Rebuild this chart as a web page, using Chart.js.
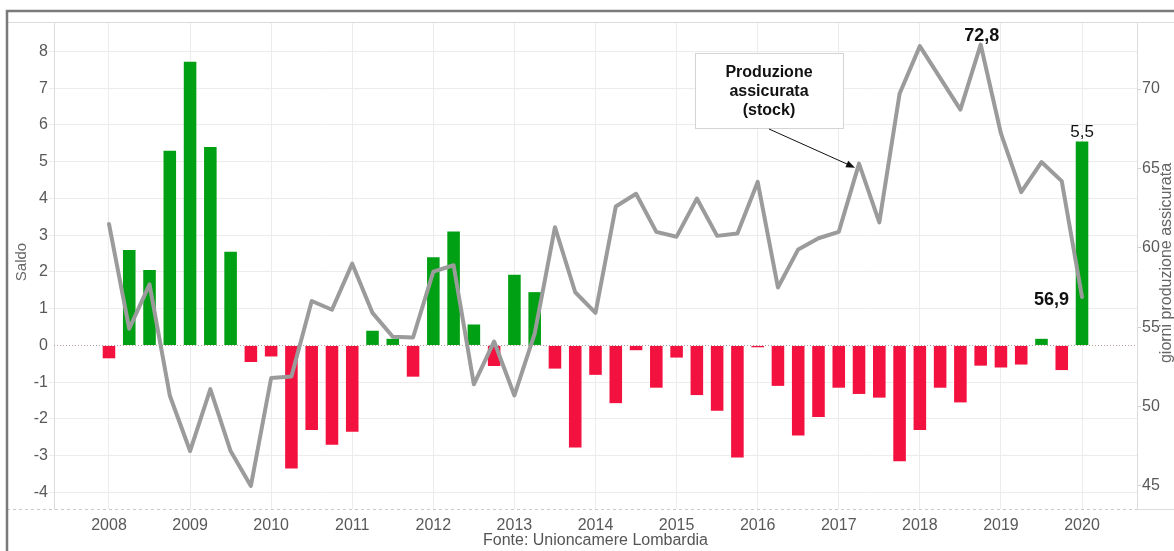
<!DOCTYPE html>
<html>
<head>
<meta charset="utf-8">
<script src="https://cdn.jsdelivr.net/npm/chart.js@4/dist/chart.umd.min.js"></script>
<style>
  body { margin: 0; background: #fff; }
</style>
</head>
<body>
<canvas id="grafico" width="1174" height="551"></canvas>
<script>
// Trimestri 2008 T1 - 2020 T1
const trimestri = [
  "2008 T1", "2008 T2", "2008 T3", "2008 T4",
  "2009 T1", "2009 T2", "2009 T3", "2009 T4",
  "2010 T1", "2010 T2", "2010 T3", "2010 T4",
  "2011 T1", "2011 T2", "2011 T3", "2011 T4",
  "2012 T1", "2012 T2", "2012 T3", "2012 T4",
  "2013 T1", "2013 T2", "2013 T3", "2013 T4",
  "2014 T1", "2014 T2", "2014 T3", "2014 T4",
  "2015 T1", "2015 T2", "2015 T3", "2015 T4",
  "2016 T1", "2016 T2", "2016 T3", "2016 T4",
  "2017 T1", "2017 T2", "2017 T3", "2017 T4",
  "2018 T1", "2018 T2", "2018 T3", "2018 T4",
  "2019 T1", "2019 T2", "2019 T3", "2019 T4",
  "2020 T1",
];

// Saldo (barre, asse sinistro)
const saldo = [
  -0.35, 2.6, 2.05, 5.3,
  7.72, 5.4, 2.55, -0.45,
  -0.3, -3.35, -2.3, -2.7,
  -2.35, 0.4, 0.18, -0.85,
  2.4, 3.1, 0.57, -0.56,
  1.92, 1.45, -0.63, -2.78,
  -0.8, -1.57, -0.13, -1.15,
  -0.33, -1.35, -1.78, -3.05,
  -0.05, -1.1, -2.45, -1.95,
  -1.15, -1.32, -1.42, -3.15,
  -2.3, -1.15, -1.55, -0.55,
  -0.6, -0.52, 0.18, -0.67,
  5.55,
];

// Giorni di produzione assicurata (linea, asse destro)
const giorni = [
  61.5, 54.9, 57.7, 50.7,
  47.2, 51.1, 47.2, 45.0,
  51.8, 51.9, 56.65, 56.1,
  59.0, 55.9, 54.4, 54.35,
  58.5, 58.9, 51.4, 54.1,
  50.7, 54.6, 61.3, 57.2,
  55.9, 62.6, 63.4, 61.0,
  60.7, 63.1, 60.75, 60.9,
  64.15, 57.5, 59.9, 60.6,
  61.0, 65.3, 61.6, 69.7,
  72.7, 70.7, 68.7, 72.8,
  67.2, 63.5, 65.4, 64.2,
  56.9,
];

// Etichette degli assi
const anni = [2008, 2009, 2010, 2011, 2012, 2013, 2014, 2015, 2016, 2017, 2018, 2019, 2020];
const tickSaldo = [-4, -3, -2, -1, 0, 1, 2, 3, 4, 5, 6, 7, 8];
const tickGiorni = [45, 50, 55, 60, 65, 70];

const VERDE = "#00a014";
const ROSSO = "#f3123f";
const GRIGIO_TESTO = "#595959";

Chart.defaults.font.family = "'Liberation Sans', Arial, sans-serif";

// "2009 T3" -> 2009.5
const xDi = (t) => +t.slice(0, 4) + (+t.slice(-1) - 1) / 4;

const puntiSaldo = trimestri.map((t, i) => ({ x: xDi(t), y: saldo[i] }));
const puntiGiorni = trimestri.map((t, i) => ({ x: xDi(t), y: giorni[i] }));

const fissaTick = (valori) => (scale) => {
  scale.ticks = valori.map((v) => ({ value: v }));
};

const extra = {
  id: "extra",
  beforeDatasetsDraw(chart) {
    const { ctx, chartArea } = chart;
    const y0 = chart.scales.y.getPixelForValue(0);
    ctx.save();
    ctx.strokeStyle = "#b59a9a";
    ctx.lineWidth = 1;
    ctx.setLineDash([1, 2]);
    ctx.beginPath();
    ctx.moveTo(chartArea.left, Math.round(y0) + 0.5);
    ctx.lineTo(chartArea.right, Math.round(y0) + 0.5);
    ctx.stroke();
    ctx.restore();
  },
  afterDraw(chart) {
    const { ctx, chartArea } = chart;
    const meta = chart.getDatasetMeta(0);
    ctx.save();

    // cornice e bordi dell'area
    ctx.strokeStyle = "#dcdcdc";
    ctx.lineWidth = 1;
    ctx.beginPath();
    ctx.moveTo(7, chartArea.top + 0.5);
    ctx.lineTo(1174, chartArea.top + 0.5);
    ctx.moveTo(chartArea.right + 0.5, chartArea.top);
    ctx.lineTo(chartArea.right + 0.5, chartArea.bottom);
    ctx.moveTo(chartArea.right, chartArea.bottom + 0.5);
    ctx.lineTo(1174, chartArea.bottom + 0.5);
    ctx.stroke();
    ctx.strokeStyle = "#c8c8c8";
    ctx.setLineDash([3, 3]);
    ctx.beginPath();
    ctx.moveTo(7, chartArea.bottom + 0.5);
    ctx.lineTo(chartArea.right, chartArea.bottom + 0.5);
    ctx.stroke();
    ctx.setLineDash([]);
    ctx.strokeStyle = "#7a7a7a";
    ctx.lineWidth = 2.5;
    ctx.beginPath();
    ctx.moveTo(7, 600);
    ctx.lineTo(7, 11);
    ctx.lineTo(1200, 11);
    ctx.stroke();

    // titoli degli assi
    ctx.fillStyle = "#666";
    ctx.textAlign = "center";
    ctx.textBaseline = "alphabetic";
    ctx.font = "15px 'Liberation Sans', Arial, sans-serif";
    ctx.save();
    ctx.translate(26, 262);
    ctx.rotate(-Math.PI / 2);
    ctx.fillText("Saldo", 0, 0);
    ctx.restore();
    ctx.font = "16px 'Liberation Sans', Arial, sans-serif";
    ctx.save();
    ctx.translate(1171, 263);
    ctx.rotate(-Math.PI / 2);
    ctx.fillText("giorni produzione assicurata", 0, 0);
    ctx.restore();

    // fonte
    ctx.fillStyle = "#555";
    ctx.font = "16px 'Liberation Sans', Arial, sans-serif";
    ctx.fillText("Fonte: Unioncamere Lombardia", (chartArea.left + chartArea.right) / 2, 545);

    // etichette valori
    const pMax = meta.data[giorni.indexOf(72.8)];
    ctx.fillStyle = "#111";
    ctx.font = "bold 18px 'Liberation Sans', Arial, sans-serif";
    ctx.fillText("72,8", pMax.x + 1, pMax.y - 4);

    const last = giorni.length - 1;
    const pFine = meta.data[last];
    ctx.textAlign = "right";
    ctx.fillText("56,9", pFine.x - 13, pFine.y + 8);

    const barre = chart.getDatasetMeta(1).data;
    ctx.textAlign = "center";
    ctx.font = "17px 'Liberation Sans', Arial, sans-serif";
    ctx.fillText("5,5", barre[last].x, barre[last].y - 4.5);

    // riquadro annotazione
    ctx.fillStyle = "#fff";
    ctx.strokeStyle = "#d4d4d4";
    ctx.lineWidth = 1;
    ctx.fillRect(695.5, 53.5, 148, 75);
    ctx.strokeRect(695.5, 53.5, 148, 75);
    ctx.fillStyle = "#111";
    ctx.font = "bold 16px 'Liberation Sans', Arial, sans-serif";
    ctx.fillText("Produzione", 769, 77);
    ctx.fillText("assicurata", 769, 96);
    ctx.fillText("(stock)", 769, 115);

    // freccia verso il punto 2017 T2
    const pFreccia = meta.data[trimestri.indexOf("2017 T2")];
    const x0 = 769, yA = 129;
    const x1 = pFreccia.x - 4, yB = pFreccia.y + 4;
    const ang = Math.atan2(yB - yA, x1 - x0);
    ctx.strokeStyle = "#111";
    ctx.lineWidth = 1;
    ctx.beginPath();
    ctx.moveTo(x0, yA);
    ctx.lineTo(x1 - 6 * Math.cos(ang), yB - 6 * Math.sin(ang));
    ctx.stroke();
    ctx.beginPath();
    ctx.moveTo(x1, yB);
    ctx.lineTo(x1 - 9 * Math.cos(ang) + 3.5 * Math.sin(ang), yB - 9 * Math.sin(ang) - 3.5 * Math.cos(ang));
    ctx.lineTo(x1 - 9 * Math.cos(ang) - 3.5 * Math.sin(ang), yB - 9 * Math.sin(ang) + 3.5 * Math.cos(ang));
    ctx.closePath();
    ctx.fill();

    ctx.restore();
  },
};

new Chart(document.getElementById("grafico"), {
  type: "bar",
  data: {
    datasets: [
      {
        type: "line",
        label: "Produzione assicurata (stock)",
        data: puntiGiorni,
        yAxisID: "y1",
        borderColor: "#9b9b9b",
        borderWidth: 4,
        pointRadius: 0,
        tension: 0,
        borderJoinStyle: "round",
        borderCapStyle: "round",
        order: 0,
      },
      {
        label: "Saldo",
        data: puntiSaldo,
        yAxisID: "y",
        backgroundColor: (c) => (c.raw && c.raw.y >= 0 ? VERDE : ROSSO),
        barPercentage: 0.62,
        categoryPercentage: 1,
        order: 1,
      },
    ],
  },
  options: {
    responsive: false,
    animation: false,
    layout: { padding: { top: 22, left: 0, right: 0, bottom: 0 } },
    plugins: {
      legend: { display: false },
      tooltip: { enabled: false },
    },
    scales: {
      x: {
        type: "linear",
        min: 2007.322,
        max: 2020.678,
        offset: false,
        afterBuildTicks: fissaTick(anni),
        afterFit: (s) => { s.height = 42; },
        ticks: {
          callback: (v) => String(v),
          font: { size: 16 },
          color: GRIGIO_TESTO,
          padding: 7,
          maxRotation: 0,
          autoSkip: false,
        },
        grid: { color: "#ececec", drawTicks: false, offset: false },
        border: { display: false },
      },
      y: {
        position: "left",
        min: -4.45,
        max: 8.8,
        afterBuildTicks: fissaTick(tickSaldo),
        afterFit: (s) => { s.width = 54; },
        ticks: {
          callback: (v) => String(v),
          font: { size: 16 },
          color: GRIGIO_TESTO,
          padding: 1,
          autoSkip: false,
        },
        grid: {
          color: (c) => (c.tick && c.tick.value === 0 ? "rgba(0,0,0,0)" : "#ececec"),
          tickLength: 5,
        },
        border: { color: "#dcdcdc" },
      },
      y1: {
        position: "right",
        min: 43.55,
        max: 74.22,
        afterBuildTicks: fissaTick(tickGiorni),
        afterFit: (s) => { s.width = 37; },
        ticks: {
          callback: (v) => String(v),
          font: { size: 16 },
          color: GRIGIO_TESTO,
          padding: 1,
          autoSkip: false,
        },
        grid: { drawOnChartArea: false, color: "#cfcfcf", tickLength: 4 },
        border: { color: "#dcdcdc" },
      },
    },
  },
  plugins: [extra],
});
</script>
</body>
</html>
